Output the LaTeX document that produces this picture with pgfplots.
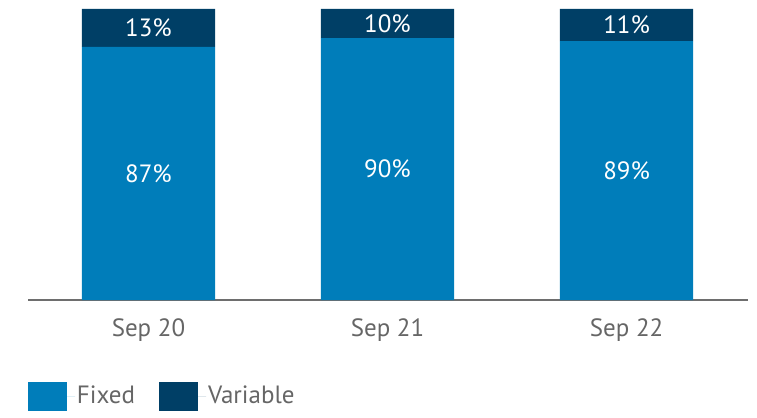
\documentclass[border=0pt]{standalone}
\usepackage{pgfplots}
\pgfplotsset{compat=1.18}
\usepackage{fontspec}
\setmainfont{PT Sans}
\usetikzlibrary{calc}
\definecolor{fixedc}{HTML}{007DBA}
\definecolor{varc}{HTML}{003F66}
\definecolor{txt}{HTML}{666666}
\definecolor{axc}{HTML}{6E6E6E}
\begin{document}
\fontsize{25bp}{28bp}\selectfont
\begin{tikzpicture}
\begin{axis}[
  name=ax,
  scale only axis,
  width=720bp, height=291bp,
  ybar stacked,
  bar width=0.557,
  xmin=-0.504, xmax=2.508,
  ymin=0, ymax=100,
  axis y line=none,
  axis x line*=bottom,
  x axis line style={axc, line width=1.2bp, -},
  xtick={0,1,2},
  xticklabels={Sep 20, Sep 21, Sep 22},
  major tick length=0pt,
  xticklabel style={text=txt, font=\fontsize{25bp}{28bp}\selectfont, yshift=-10bp},
  ytick=\empty,
  /pgf/number format/assume math mode=true,
  point meta=rawy,
  nodes near coords={\pgfmathprintnumber{\pgfplotspointmeta}\%},
  every node near coord/.append style={text=white, anchor=center, font=\fontsize{25bp}{28bp}\selectfont},
  legend columns=2,
  legend style={draw=none, fill=none, at={(0,-0.333)}, anchor=west, inner sep=0pt, outer sep=0pt,
    font=\fontsize{25bp}{28bp}\selectfont, text=txt,
    /tikz/every even column/.append style={column sep=22bp}},
  legend image code/.code={\fill[#1, draw=none] (0bp,-14.5bp) rectangle (39bp,14.5bp); \path (0bp,0bp) -- (47bp,0bp);},
  legend cell align=left,
]
\addplot[fill=fixedc, draw=none] coordinates {(0,87) (1,90) (2,89)};
\addplot[fill=varc, draw=none] coordinates {(0,13) (1,10) (2,11)};
\legend{Fixed, Variable}
\end{axis}
\pgfresetboundingbox
\path[use as bounding box] ($(ax.south west)+(-28bp,-118bp)$) rectangle ($(ax.north east)+(9bp,9bp)$);
\end{tikzpicture}
\end{document}
